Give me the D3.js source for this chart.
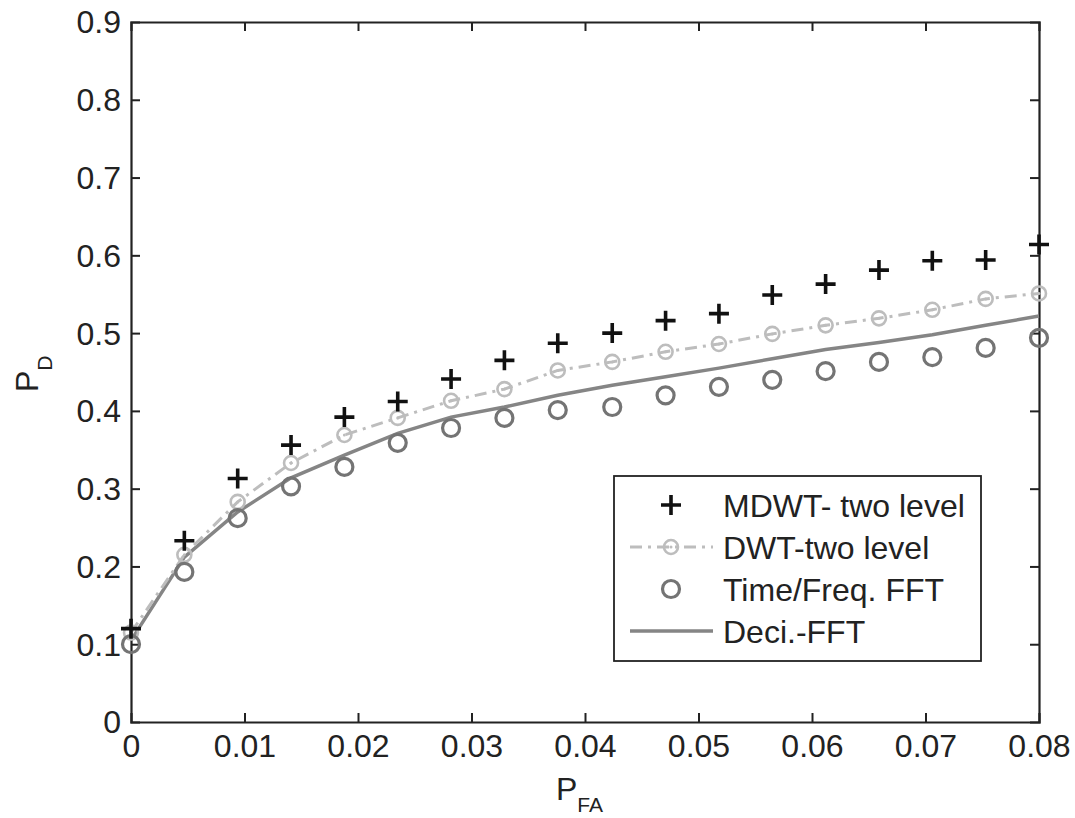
<!DOCTYPE html>
<html><head><meta charset="utf-8">
<script src="https://cdn.jsdelivr.net/npm/d3@7"></script>
<style>body{margin:0;background:#fff}svg{display:block}</style>
</head><body>
<svg id="c" width="1075" height="818"></svg>
<script>
const pfa = [0, 0.0047, 0.0094, 0.0141, 0.0188, 0.0235, 0.0282, 0.0329, 0.0376, 0.0424, 0.0471, 0.0518, 0.0565, 0.0612, 0.0659, 0.0706, 0.0753, 0.08];
const mdwt = [0.12, 0.233, 0.313, 0.356, 0.392, 0.412, 0.441, 0.465, 0.487, 0.50, 0.516, 0.525, 0.549, 0.563, 0.581, 0.593, 0.594, 0.614];
const dwt = [0.115, 0.215, 0.283, 0.333, 0.369, 0.391, 0.413, 0.428, 0.452, 0.463, 0.476, 0.486, 0.499, 0.510, 0.519, 0.530, 0.544, 0.551];
const tf = [0.10, 0.193, 0.262, 0.303, 0.328, 0.359, 0.378, 0.391, 0.401, 0.405, 0.420, 0.431, 0.44, 0.451, 0.463, 0.469, 0.481, 0.494];
const deci = [0.105, 0.212, 0.27, 0.314, 0.343, 0.371, 0.392, 0.405, 0.42, 0.433, 0.444, 0.455, 0.467, 0.479, 0.488, 0.498, 0.51, 0.522];
const xTicks = [0, 0.01, 0.02, 0.03, 0.04, 0.05, 0.06, 0.07, 0.08];
const yTicks = [0, 0.1, 0.2, 0.3, 0.4, 0.5, 0.6, 0.7, 0.8, 0.9];
const legendLabels = ["MDWT- two level", "DWT-two level", "Time/Freq. FFT", "Deci.-FFT"];

const svg = d3.select("#c");
const L = 131, R = 1039, T = 22, B = 722;
const x = d3.scaleLinear().domain([0, 0.08]).range([L, R]);
const y = d3.scaleLinear().domain([0, 0.9]).range([B, T]);
const font = "'Liberation Sans', Arial, sans-serif";
const axisCol = "#222";
const fs = 32;

// axes (box with inward ticks)
const tl = 9;
const fmt = d => d === 0 ? "0" : d3.format(".2~f")(d);
const gx = svg.append("g").attr("transform", `translate(0,${B})`)
  .call(d3.axisBottom(x).tickValues(xTicks).tickSize(-tl).tickPadding(12).tickFormat(fmt));
const gxt = svg.append("g").attr("transform", `translate(0,${T})`)
  .call(d3.axisTop(x).tickValues(xTicks).tickSize(-tl).tickFormat(""));
const gy = svg.append("g").attr("transform", `translate(${L},0)`)
  .call(d3.axisLeft(y).tickValues(yTicks).tickSize(-tl).tickPadding(10).tickFormat(d => d === 0 ? "0" : d3.format(".1f")(d)));
const gyr = svg.append("g").attr("transform", `translate(${R},0)`)
  .call(d3.axisRight(y).tickValues(yTicks).tickSize(-tl).tickFormat(""));
[gx, gxt, gy, gyr].forEach(g => {
  g.select(".domain").attr("stroke", axisCol).attr("stroke-width", 2.2);
  g.selectAll(".tick line").attr("stroke", axisCol).attr("stroke-width", 2);
  g.selectAll("text").attr("font-family", font).attr("font-size", fs).attr("fill", "#222");
});
gx.selectAll(".tick text").attr("dy", "0.71em");
gy.selectAll(".tick text").attr("dy", "0.34em");
gx.selectAll(".tick line").filter(d => d === 0 || d === 0.08).remove();
gxt.selectAll(".tick line").filter(d => d === 0 || d === 0.08).remove();
gy.selectAll(".tick line").filter(d => d === 0 || d === 0.9).remove();
gyr.selectAll(".tick line").filter(d => d === 0 || d === 0.9).remove();

// axis labels
const xl = svg.append("text").attr("x", 556).attr("y", 800).attr("font-family", font).attr("font-size", fs).attr("fill", "#222");
xl.append("tspan").text("P");
xl.append("tspan").attr("font-size", 21).attr("dy", 12).text("FA");
const yl = svg.append("text").attr("transform", "translate(38,392) rotate(-90)").attr("font-family", font).attr("font-size", fs).attr("fill", "#222");
yl.append("tspan").text("P");
yl.append("tspan").attr("font-size", 21).attr("dy", 14).text("D");

const pts = (arr) => arr.map((v, i) => [pfa[i], v]);
const line = d3.line().x(d => x(d[0])).y(d => y(d[1]));

const cDeci = "#858585", cDwt = "#bdbdbd", cTf = "#747474", cMd = "#111";
svg.append("path").attr("d", line(pts(deci))).attr("fill", "none").attr("stroke", cDeci).attr("stroke-width", 3.5);
svg.append("path").attr("d", line(pts(dwt))).attr("fill", "none").attr("stroke", cDwt).attr("stroke-width", 3).attr("stroke-dasharray", "12,6,3,6");
function dwtMarker(g, cx, cy) {
  g.append("circle").attr("cx", cx).attr("cy", cy).attr("r", 7).attr("fill", "none").attr("stroke", cDwt).attr("stroke-width", 2.6);
  g.append("circle").attr("cx", cx).attr("cy", cy).attr("r", 1.5).attr("fill", cDwt);
}
function tfMarker(g, cx, cy) {
  g.append("circle").attr("cx", cx).attr("cy", cy).attr("r", 8.5).attr("fill", "none").attr("stroke", cTf).attr("stroke-width", 3.2);
}
function plusMarker(g, cx, cy) {
  g.append("path").attr("d", `M${cx - 10},${cy}H${cx + 10}M${cx},${cy - 10}V${cy + 10}`).attr("stroke", cMd).attr("stroke-width", 3.6);
}
const gm = svg.append("g");
pts(dwt).forEach(d => dwtMarker(gm, x(d[0]), y(d[1])));
pts(tf).forEach(d => tfMarker(gm, x(d[0]), y(d[1])));
pts(mdwt).forEach(d => plusMarker(gm, x(d[0]), y(d[1])));

// legend
const lg = svg.append("g");
lg.append("rect").attr("x", 614).attr("y", 476).attr("width", 367).attr("height", 185).attr("fill", "#fff").attr("stroke", "#222").attr("stroke-width", 1.8);
const rows = [505, 547, 589, 631];
const sx0 = 630, sx1 = 713, sxm = 671;
plusMarker(lg, sxm, rows[0]);
lg.append("line").attr("x1", sx0).attr("x2", sx1).attr("y1", rows[1]).attr("y2", rows[1]).attr("stroke", cDwt).attr("stroke-width", 3).attr("stroke-dasharray", "12,6,3,6");
dwtMarker(lg, sxm, rows[1]);
tfMarker(lg, sxm, rows[2]);
lg.append("line").attr("x1", sx0).attr("x2", sx1).attr("y1", rows[3]).attr("y2", rows[3]).attr("stroke", cDeci).attr("stroke-width", 3.5);
legendLabels.forEach((t, i) => {
  lg.append("text").attr("x", 723).attr("y", rows[i] + 12).attr("font-family", font).attr("font-size", fs).attr("fill", "#222").text(t);
});
</script>
</body></html>
